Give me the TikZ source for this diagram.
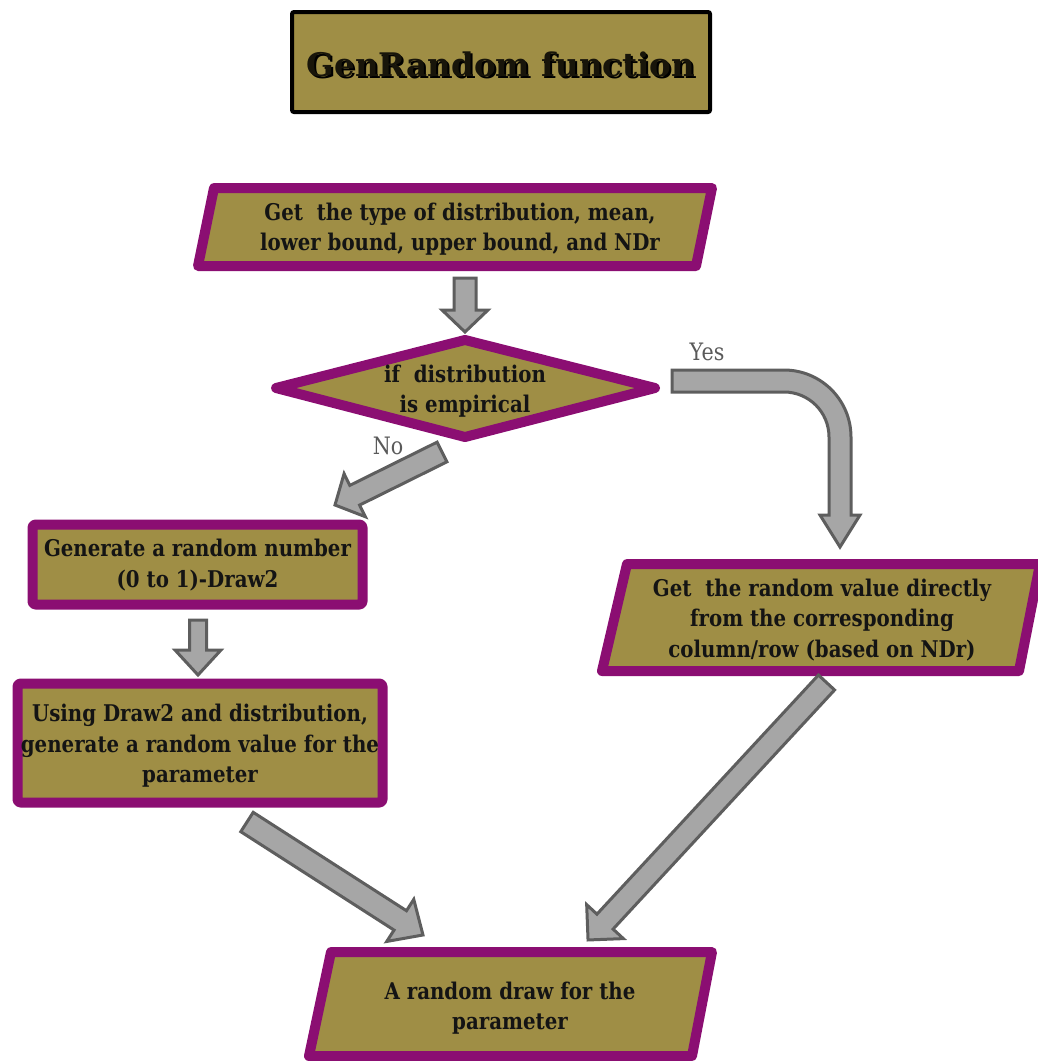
\documentclass[tikz,border=0pt]{standalone}
\usepackage{fontspec}
\setmainfont{DejaVu Serif}[FakeStretch=0.86]
\newfontfamily\titlefont{DejaVu Serif}
\usetikzlibrary{calc}

\definecolor{boxfill}{HTML}{9F8E45}
\definecolor{boxline}{HTML}{8B0E72}
\definecolor{arrfill}{HTML}{A6A6A6}
\definecolor{arrline}{HTML}{5E5E5E}
\definecolor{txtcol}{HTML}{141414}
\definecolor{lblcol}{HTML}{5A5A5A}

\tikzset{
  pbox/.style={draw=boxline, fill=boxfill, line width=10pt, line join=round},
  rbox/.style={pbox, rounded corners=3pt, inner sep=0pt},
  titlebox/.style={draw=black, fill=boxfill, line width=4pt, rounded corners=2pt, inner sep=0pt},
  txt/.style={text=txtcol, align=center, inner sep=0pt,
    font=\bfseries\fontsize{23}{30.5}\selectfont},
  lbl/.style={text=lblcol, inner sep=0pt, font=\fontsize{24}{28}\selectfont},
  blockarr/.style={draw=arrline, fill=arrfill, line width=3pt, line join=miter},
}

% straight block arrow: #1 tail, #2 tip, #3 shaft half width,
% #4 head half width, #5 head length
\newcommand\blockarrow[5]{%
  \path let \p1=(#1), \p2=(#2) in
    \pgfextra{\pgfmathsetmacro\baAng{atan2(\y2-\y1,\x2-\x1)}%
              \pgfmathsetmacro\baLen{veclen(\x2-\x1,\y2-\y1)}%
              \global\let\baAng\baAng \global\let\baLen\baLen};
  \begin{scope}[shift={(#1)}, rotate=\baAng]
    \draw[blockarr] (0,-#3) -- ({\baLen-#5},-#3) -- ({\baLen-#5},-#4) -- (\baLen,0)
      -- ({\baLen-#5},#4) -- ({\baLen-#5},#3) -- (0,#3) -- cycle;
  \end{scope}}

\begin{document}
\begin{tikzpicture}[x=1pt,y=-1pt]
\useasboundingbox (0,0) rectangle (1037,1061);

% title
\node[titlebox, minimum width=418pt, minimum height=100pt] (title) at (501,62) {};
\node[font=\titlefont\bfseries\fontsize{32.5}{40}\selectfont, text=black, inner sep=0pt]
  (titleshadow) at (503,66) {GenRandom function};
\node[font=\titlefont\bfseries\fontsize{32.5}{40}\selectfont, text=black!85!boxfill, inner sep=0pt]
  (titletext) at (501,64) {GenRandom function};

% input parallelogram
\draw[pbox] (214,188) -- (712,188) -- (696,266) -- (198,266) -- cycle;
\node[txt] (input) at (460,229) {Get~ the type of distribution, mean,\\lower bound, upper bound, and NDr};

% decision
\draw[pbox] (276,388) -- (465,340) -- (655,388) -- (465,437) -- cycle;
\node[txt] (decide) at (465,391) {if~ distribution\\is empirical};

% left branch boxes
\node[rbox, minimum width=330pt, minimum height=80pt] (gen) at (197.5,564.5) {};
\node[txt] (gentext) at (197.5,565) {Generate a random number\\(0 to 1)-Draw2};

\node[rbox, minimum width=365pt, minimum height=119pt] (use) at (200,743) {};
\node[txt] (usetext) at (200,746) {Using Draw2 and distribution,\\generate a random value for the\\parameter};

% right branch parallelogram
\draw[pbox] (627,564) -- (1040,564) -- (1019,671) -- (602,671) -- cycle;
\node[txt] (direct) at (822,620) {Get~ the random value directly\\from the corresponding\\column/row (based on NDr)};

% output parallelogram
\draw[pbox] (331,952) -- (712,952) -- (692,1056) -- (309,1056) -- cycle;
\node[txt] (result) at (510,1008) {A random draw for the\\parameter};

% branch labels
\node[lbl] (yes) at (707,352) {Yes};
\node[lbl] (no) at (388,446) {No};

% connector end points
\coordinate (a1s) at (465,278);  \coordinate (a1e) at (465,332);
\coordinate (nos) at (442,452);  \coordinate (noe) at (335,505);
\coordinate (a2s) at (198,620);  \coordinate (a2e) at (198,675);
\coordinate (ls)  at (247,822);  \coordinate (le)  at (423,935);
\coordinate (rs)  at (826.5,682.5); \coordinate (re) at (588,940);

\blockarrow{a1s}{a1e}{11}{23}{22}
\blockarrow{nos}{noe}{11}{24}{22}
\blockarrow{a2s}{a2e}{8.5}{23}{25}
\blockarrow{ls}{le}{11.5}{25}{27}
\blockarrow{rs}{re}{11}{25}{25}

% bent "Yes" arrow
\draw[blockarr] (672,370) -- (784,370) .. controls (821,370) and (851,400) .. (851,437)
  -- (851,515) -- (860,515) -- (840,547) -- (820,515) -- (829,515) -- (829,437)
  .. controls (829,412.1) and (808.9,392) .. (784,392) -- (672,392) -- cycle;
\end{tikzpicture}
\end{document}
